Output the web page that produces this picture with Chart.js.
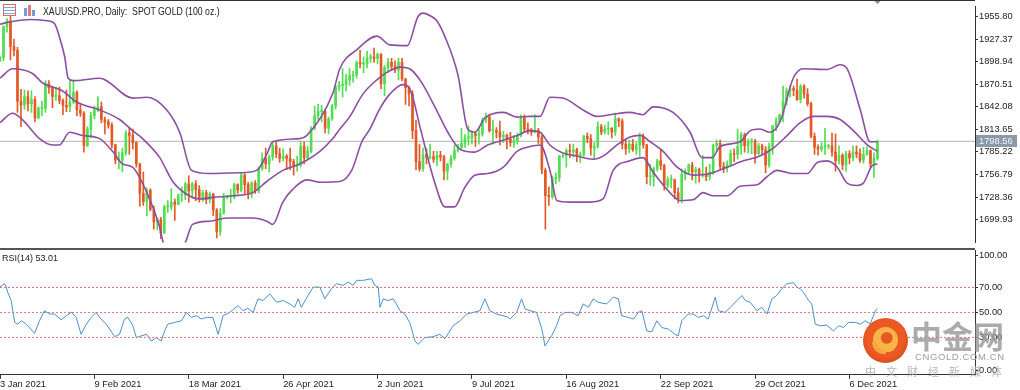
<!DOCTYPE html>
<html>
<head>
<meta charset="utf-8">
<script src="https://cdn.jsdelivr.net/npm/chart.js@4.4.1/dist/chart.umd.min.js"></script>
<style>
  html, body { margin: 0; padding: 0; background: #fff; }
  body { width: 1020px; height: 390px; position: relative; overflow: hidden; font-family: "Liberation Sans", Arial, sans-serif; }
  canvas { position: absolute; left: 0; }
  #price { top: 0; }
  #rsi { top: 249px; }
  .hline { position: absolute; left: 0; width: 975px; }
  #title { position: absolute; left: 43px; top: 6px; font-size: 10.5px; line-height: 10.5px; color: #222; white-space: nowrap; transform: scaleX(0.83); transform-origin: left top; }
  #rsiTitle { position: absolute; left: 2px; top: 254px; font-size: 9px; line-height: 9px; color: #222; white-space: nowrap; }
  #icon1 { position: absolute; left: 3px; top: 4px; width: 11px; height: 10px; border: 1px solid #d86b6b; background: repeating-linear-gradient(#fff 0 2px, #7ea8dc 2px 3px); }
  #icon2 { position: absolute; left: 24px; top: 4px; width: 13px; height: 12px; }
  #icon2 div { position: absolute; bottom: 0; width: 3px; }
  #logo { position: absolute; left: 863px; top: 318px; width: 45px; height: 45px; border-radius: 50%; background: radial-gradient(circle at 50% 45%, #ea5a22 0 55%, #cf3815 100%); }
  #logoIn { position: absolute; left: 10px; top: 9px; width: 25px; height: 26px; border-radius: 50%; background: radial-gradient(circle at 55% 42%, #e65a20 0 26%, #f8b448 31% 68%, transparent 71%); }
  #logoTail { position: absolute; left: 9px; top: 24px; width: 14px; height: 12px; border-radius: 0 0 0 12px; border-left: 4px solid #f6a83c; border-bottom: 4px solid #f6a83c; box-sizing: border-box; }
  .wm { position: absolute; white-space: nowrap; }
  #wmBig { left: 911px; top: 318px; font-family: "Noto Sans CJK SC", sans-serif; font-weight: 700; font-size: 31px; line-height: 34px; color: rgba(150,150,150,0.8); }
  #wmSite { left: 915px; top: 352px; font-size: 9.5px; line-height: 10px; letter-spacing: 0.6px; color: #9c9c9c; }
  #wmSub { left: 865px; top: 365px; font-family: "Noto Sans CJK SC", sans-serif; font-size: 11px; line-height: 13px; letter-spacing: 10px; color: rgba(170,170,170,0.85); }
</style>
</head>
<body>
<canvas id="price" width="1020" height="249"></canvas>
<canvas id="rsi" width="1020" height="141"></canvas>
<div class="hline" style="top:0;height:1px;background:#333"></div>
<div class="hline" style="top:248px;height:2px;background:#555"></div>
<div id="icon1"></div>
<div id="icon2">
  <div style="left:0;height:8px;background:#6f9fdc"></div>
  <div style="left:4px;height:11px;background:#e07a7a"></div>
  <div style="left:8px;height:6px;background:#6f9fdc"></div>
</div>
<div id="title">XAUUSD.PRO, Daily:&nbsp; SPOT GOLD (100 oz.)</div>
<div id="rsiTitle"></div>
<div id="logo"><div id="logoIn"></div><div id="logoTail"></div></div>
<div class="wm" id="wmBig">中金网</div>
<div class="wm" id="wmSite">CNGOLD.COM.CN</div>
<div class="wm" id="wmSub">中文财经新媒体</div>
<script>
// bar 0 = 3 Jan 2021, one bar per trading day, last bar = 16 Dec 2021
const dateLabels = ['3 Jan 2021', '9 Feb 2021', '18 Mar 2021', '26 Apr 2021', '2 Jun 2021', '9 Jul 2021', '16 Aug 2021', '22 Sep 2021', '29 Oct 2021', '6 Dec 2021'];
const tickBars = [0, 27, 54, 81, 108, 135, 162, 189, 216, 243];
const priceTicks = [1699.93, 1728.36, 1756.79, 1785.22, 1813.65, 1842.08, 1870.51, 1898.94, 1927.37, 1955.80];
const rsiLevels = [30, 50, 70];
const rsiAxis = [100, 70, 50, 30, 0];

const openPx = [
  1900,1904,1943,1950,1918,1913,1849,1844,1855,1846,
  1851,1828,1840,1840,1871,1866,1855,1856,1850,1844,
  1842,1848,1860,1838,1834,1793,1814,1831,1838,1842,
  1826,1823,1819,1794,1775,1775,1784,1809,1806,1797,
  1770,1733,1723,1737,1713,1697,1700,1683,1716,1716,
  1722,1719,1731,1731,1745,1736,1745,1738,1726,1734,
  1725,1732,1712,1685,1708,1728,1729,1729,1744,1737,
  1756,1744,1732,1746,1736,1764,1777,1770,1779,1793,
  1783,1777,1780,1777,1773,1768,1769,1792,1778,1786,
  1815,1831,1836,1836,1815,1827,1843,1867,1869,1870,
  1876,1881,1882,1898,1896,1896,1903,1905,1903,1908,
  1871,1891,1898,1893,1888,1898,1877,1866,1858,1812,
  1773,1764,1782,1778,1779,1776,1781,1779,1761,1770,
  1777,1787,1791,1796,1803,1803,1808,1806,1808,1825,
  1829,1812,1812,1810,1804,1806,1801,1797,1799,1806,
  1828,1814,1813,1810,1812,1804,1762,1730,1729,1752,
  1753,1780,1781,1787,1786,1788,1781,1781,1805,1802,
  1790,1792,1817,1810,1814,1815,1810,1827,1824,1795,
  1789,1795,1788,1794,1804,1794,1754,1754,1764,1774,
  1768,1743,1750,1750,1734,1726,1757,1761,1769,1760,
  1763,1756,1757,1754,1760,1793,1796,1767,1765,1769,
  1783,1782,1792,1807,1793,1798,1799,1783,1793,1788,
  1769,1792,1818,1824,1832,1849,1862,1865,1863,1851,
  1868,1858,1846,1805,1791,1789,1792,1792,1793,1785,
  1774,1781,1769,1783,1778,1785,1783,1775,1782,1787,
  1770,1777
];
const highPx = [
  1906,1944,1953,1959,1927,1917,1864,1863,1862,1862,
  1855,1842,1849,1875,1875,1868,1867,1867,1852,1863,
  1875,1875,1862,1845,1836,1817,1835,1843,1855,1848,
  1829,1826,1822,1795,1785,1790,1812,1816,1814,1798,
  1771,1760,1740,1739,1717,1702,1703,1718,1724,1739,
  1726,1732,1741,1747,1755,1747,1749,1743,1737,1737,
  1735,1733,1714,1714,1733,1731,1738,1746,1745,1759,
  1758,1747,1748,1749,1766,1784,1790,1781,1797,1798,
  1790,1789,1782,1790,1776,1780,1799,1798,1792,1817,
  1843,1845,1844,1838,1829,1845,1869,1874,1890,1883,
  1890,1887,1900,1913,1905,1912,1908,1916,1910,1909,
  1894,1903,1903,1900,1903,1903,1878,1868,1862,1825,
  1795,1790,1789,1795,1786,1786,1786,1781,1771,1781,
  1794,1795,1815,1807,1818,1812,1810,1816,1828,1834,
  1832,1825,1816,1824,1811,1808,1810,1806,1809,1832,
  1832,1822,1815,1832,1815,1806,1765,1741,1755,1759,
  1781,1782,1789,1795,1795,1790,1785,1806,1809,1807,
  1797,1823,1820,1819,1823,1816,1834,1828,1827,1800,
  1800,1801,1797,1809,1808,1795,1770,1766,1776,1788,
  1770,1754,1756,1751,1740,1764,1764,1770,1772,1766,
  1765,1781,1766,1770,1795,1800,1800,1772,1774,1788,
  1789,1814,1810,1809,1801,1802,1801,1796,1795,1792,
  1796,1818,1828,1833,1868,1866,1869,1868,1877,1870,
  1870,1865,1848,1809,1794,1797,1815,1795,1809,1808,
  1793,1783,1786,1787,1793,1793,1789,1791,1792,1788,
  1784,1800
];
const lowPx = [
  1899,1900,1936,1901,1906,1835,1817,1839,1837,1835,
  1823,1827,1831,1835,1859,1841,1850,1846,1832,1836,
  1836,1846,1831,1830,1785,1792,1803,1827,1836,1822,
  1808,1815,1790,1770,1764,1760,1781,1782,1789,1766,
  1717,1718,1705,1711,1688,1687,1676,1683,1709,1712,
  1699,1719,1723,1725,1722,1727,1724,1722,1723,1720,
  1721,1705,1677,1680,1707,1726,1721,1726,1733,1735,
  1732,1726,1728,1733,1734,1762,1764,1760,1775,1778,
  1772,1774,1763,1763,1756,1761,1766,1770,1776,1784,
  1813,1826,1823,1809,1808,1825,1839,1862,1854,1862,
  1869,1873,1878,1891,1885,1891,1898,1898,1896,1865,
  1856,1885,1888,1885,1876,1875,1845,1843,1802,1763,
  1761,1761,1770,1776,1772,1768,1774,1750,1750,1766,
  1775,1785,1789,1791,1794,1795,1792,1795,1805,1822,
  1810,1795,1803,1794,1797,1789,1792,1791,1795,1804,
  1810,1808,1806,1809,1796,1758,1688,1718,1726,1745,
  1748,1778,1766,1778,1779,1773,1772,1780,1797,1781,
  1776,1790,1807,1808,1807,1803,1806,1817,1789,1782,
  1784,1786,1782,1780,1790,1745,1743,1742,1761,1763,
  1737,1740,1740,1726,1721,1721,1750,1757,1750,1746,
  1747,1753,1749,1750,1757,1786,1763,1759,1760,1768,
  1773,1776,1782,1785,1784,1783,1771,1781,1781,1759,
  1766,1782,1812,1822,1823,1844,1854,1856,1850,1847,
  1853,1843,1803,1782,1781,1786,1782,1789,1780,1761,
  1770,1763,1761,1770,1774,1778,1772,1771,1781,1765,
  1753,1775
];
const closePx = [
  1904,1943,1950,1918,1913,1849,1844,1855,1846,1851,
  1828,1840,1840,1871,1866,1855,1856,1850,1844,1842,
  1848,1860,1838,1834,1793,1814,1831,1838,1842,1826,
  1823,1819,1794,1775,1775,1784,1809,1806,1797,1770,
  1733,1723,1737,1713,1697,1700,1683,1716,1716,1722,
  1719,1731,1731,1745,1736,1745,1738,1726,1734,1725,
  1732,1712,1685,1708,1728,1729,1729,1744,1737,1756,
  1744,1732,1746,1736,1764,1777,1770,1779,1793,1783,
  1777,1780,1777,1773,1768,1769,1792,1778,1786,1815,
  1831,1836,1836,1815,1827,1843,1867,1869,1870,1876,
  1881,1882,1898,1896,1896,1903,1905,1903,1908,1871,
  1891,1898,1893,1888,1898,1877,1866,1858,1812,1773,
  1764,1782,1778,1779,1776,1781,1779,1761,1770,1777,
  1787,1791,1796,1803,1803,1808,1806,1808,1825,1829,
  1812,1812,1810,1804,1806,1801,1797,1799,1806,1828,
  1814,1813,1810,1812,1804,1763,1730,1729,1752,1753,
  1780,1781,1787,1786,1788,1781,1781,1805,1802,1790,
  1792,1817,1810,1814,1815,1810,1827,1824,1795,1789,
  1795,1788,1794,1804,1794,1754,1754,1764,1774,1768,
  1743,1750,1750,1734,1726,1757,1761,1769,1760,1763,
  1756,1757,1754,1760,1793,1796,1767,1765,1769,1783,
  1782,1792,1807,1793,1798,1799,1783,1793,1788,1769,
  1792,1818,1824,1832,1849,1862,1865,1863,1851,1868,
  1858,1846,1805,1791,1789,1792,1792,1793,1785,1774,
  1781,1769,1783,1778,1785,1783,1775,1782,1787,1770,
  1777,1798.56
];

// Bollinger bands (20, 2): [bar, price]
const bbUpper = [
  [0,1946],[3,1949],[9,1952],[14,1950],[15.6,1947],[17,1930],[18.5,1905],[19.5,1878],[21,1875],[28.5,1878],
  [38,1853],[42,1854],[47.7,1838],[51.4,1810],[54.8,1762],[60,1758],[68.6,1759],[73.4,1762],[76.3,1782],[78,1798],
  [85.7,1802],[87.8,1806],[95.2,1859],[97.2,1890],[102.1,1914],[107.8,1931],[111.5,1920],[116.5,1919],[119.5,1955],[121,1960],
  [123.3,1956],[125,1950],[127.3,1930],[131,1882],[133.8,1814],[135.8,1810],[138.7,1828],[144,1835],[147.9,1829],[151.6,1830],
  [154.5,1830],[157.3,1854],[161,1853],[166.8,1838],[170.8,1830],[174.5,1832],[180.2,1835],[183.9,1832],[186.8,1842],[192.5,1835],
  [197.4,1810],[200.8,1778],[203.7,1778],[206,1792],[211.7,1798],[214.6,1812],[217.4,1814],[220.3,1810],[223.2,1824],[226.9,1878],
  [229.8,1890],[236.6,1889],[240.3,1895],[242.3,1890],[246.1,1838],[248.9,1798],[251,1798]
];
const bbMiddle = [
  [0,1878],[3.6,1890],[9.3,1884],[12.2,1872],[17.9,1862],[21.9,1848],[25.6,1842],[28.5,1838],[34.2,1826],[37.9,1812],
  [40.8,1802],[45.7,1778],[49.4,1748],[53.4,1732],[57.1,1726],[60.8,1728],[66.6,1730],[72.3,1734],[76.3,1748],[80.9,1762],
  [85.7,1770],[91.5,1786],[95.2,1802],[97.2,1814],[100.1,1830],[103.8,1858],[107.8,1876],[110.9,1886],[114.5,1892],[117.5,1889],
  [120.4,1874],[124.4,1842],[128.1,1810],[131.8,1788],[135.8,1785],[139.5,1794],[143.9,1800],[147.9,1806],[151.6,1812],[154.5,1810],
  [157.3,1794],[161,1784],[165,1780],[169.6,1776],[172.5,1780],[176.5,1794],[180.2,1804],[183.1,1806],[186,1798],[189.7,1786],
  [193.7,1766],[198.3,1756],[203.1,1758],[208,1766],[212.6,1774],[217.4,1780],[221.2,1790],[225.2,1806],[228.9,1822],[232.6,1830],
  [236.6,1830],[240.3,1826],[244.1,1812],[248.1,1794],[251,1786]
];
const bbLower = [
  [0,1822],[3.6,1834],[6.4,1826],[11.3,1802],[15,1794],[17,1794],[19.9,1810],[23.6,1806],[28.5,1802],[32.2,1786],
  [35.1,1770],[37.9,1766],[42,1734],[45.7,1690],[46.7,1671],[50,1650],[53,1671],[55.1,1694],[60,1698],[64.8,1702],
  [72.3,1702],[76.3,1698],[78,1694],[80.9,1722],[83.7,1738],[87.8,1750],[91.5,1747],[97.2,1748],[100.6,1762],[103.5,1798],
  [105.8,1814],[108.7,1840],[111.5,1858],[115.2,1870],[117.5,1862],[120.4,1812],[124.4,1746],[127.3,1716],[130,1716],[132.9,1740],
  [135.8,1756],[139.5,1758],[144,1766],[147.9,1786],[151.6,1792],[154.5,1794],[157.3,1762],[159.3,1724],[163,1722],[168.8,1722],
  [172.5,1726],[175.4,1762],[180.2,1774],[183.9,1778],[186.8,1760],[192.5,1730],[194.5,1724],[198.3,1725],[201.1,1734],[204,1730],
  [208,1730],[211.7,1742],[216.6,1744],[219.4,1754],[222.3,1762],[226.9,1758],[230.9,1758],[233.8,1772],[236.6,1774],[239.5,1766],
  [242.3,1746],[245.2,1743],[247,1746],[249.5,1768],[251,1770]
];

// RSI(14): [bar, value]
const rsiLine = [
  [0,70.3],[0.8,72.2],[1.3,73.0],[1.8,70.3],[2.2,66.2],[3.2,59.5],[4.2,42.0],[5.1,40.6],[6.1,43.3],[7.5,40.6],
  [9.9,33.3],[11.3,43.3],[12.7,51.4],[14.2,48.7],[15.6,48.7],[17.5,44.1],[19,47.4],[20.4,50.1],[21.8,46],[23.2,32.5],
  [24.7,40.6],[26.1,46],[27.5,50],[28.5,46],[30.4,40.6],[32.8,30.6],[34.2,32.5],[35.6,44.7],[36.6,46],[38,39.3],
  [39,29.8],[40.4,31.2],[41.9,32.5],[43.3,27.1],[44.7,29.8],[46.1,27.1],[47.1,35.2],[48,40.6],[50,42],[51.9,43.3],
  [53.3,50],[54.7,46],[56.2,47.4],[57.6,44.7],[59,46],[60.9,46],[62.4,32.5],[63.8,47.4],[65.7,50],[68.1,55.5],
  [69.5,51.4],[70.9,53.3],[72.4,50],[73.8,60.9],[75.2,59.5],[77.2,64.9],[79.1,58.1],[81,59.5],[82.9,56.8],[84.3,54.1],
  [85.3,60.9],[86.2,54.1],[88.1,63.6],[89.6,70.3],[91.5,70.3],[92.9,60.9],[94.8,69],[96.3,73],[98.1,71.7],[99.6,74.3],
  [101,71.7],[102,75.7],[103.9,75.7],[106.3,77],[107.2,71.7],[108.2,70.3],[108.7,54.1],[109.6,60.9],[111,59.5],[112.5,60.9],
  [113.4,56.8],[114.4,51.4],[115.8,48.7],[117.2,42],[118.7,27.1],[119.6,24.4],[121.5,29.8],[123.9,30.6],[125.8,32.5],[127.3,29],
  [129.6,39.3],[131.6,43.3],[133.5,48.7],[135.4,50],[137.3,51.4],[138.7,60.9],[140.1,51.4],[142,48.7],[143.9,47.4],[145.4,46],
  [145.9,44.7],[147.8,50],[149.2,60.9],[150.2,52.8],[151.6,51.4],[153.5,50],[155,36.6],[155.9,23.1],[156.8,27.1],[157.8,31.2],
  [159.2,39.3],[160.2,47.4],[161.6,50],[163.5,50],[165.4,47.4],[166.8,56.8],[168.3,54.1],[169.7,60.9],[171.1,58.1],[173.5,56.8],
  [175.4,62.2],[176.9,60.9],[177.8,47.4],[179.7,46],[181.2,44.7],[182.6,50],[183.6,51.4],[185,35.2],[186.4,34.4],[187.9,43.3],
  [189.3,37.9],[191.2,36.6],[193.1,32.5],[194,31.2],[195,43.3],[196.9,48.7],[198.3,48.7],[199.8,46],[201.2,47.4],[202.6,44.7],
  [204.6,62.2],[205.5,51.4],[207.4,50],[208.9,54.1],[210.8,59.5],[212.2,63.6],[213.2,59.5],[214.6,58.1],[216.5,51.4],[217.9,54.1],
  [219.4,48.7],[220.8,60.9],[222.2,63.6],[223.6,69],[225.1,73],[227,73.8],[227.9,70.3],[228.9,69],[229.8,66.2],[231.3,59.5],
  [232.2,56.8],[233.2,40.6],[234.6,39.3],[236.5,39.8],[238.4,35.2],[239.9,39.3],[241.3,37.9],[242.7,42],[244.6,42],[246.1,40.6],
  [247.5,43.3],[248.9,40.6],[250.4,51.4],[251,53.01]
];

const xMin = 0, xMax = 278.9;
const bull = '#52dd52', bear = '#e45a26', bandColor = '#8c4ea2';
const axisFont = { family: '"Liberation Sans", Arial, sans-serif', size: 9.3 };
const lastClose = closePx[closePx.length - 1];

const candleColor = c => (closePx[c.dataIndex] >= openPx[c.dataIndex] ? bull : bear);
const toXY = arr => arr.map(p => ({ x: p[0], y: p[1] }));

document.getElementById('rsiTitle').textContent = 'RSI(14) ' + rsiLine[rsiLine.length - 1][1].toFixed(2);

const priceTag = {
  id: 'priceTag',
  afterDraw(chart) {
    const ctx = chart.ctx;
    const py = Math.round(chart.scales.y.getPixelForValue(lastClose));
    ctx.save();
    ctx.fillStyle = '#8a9aab';
    ctx.fillRect(976, py - 6, 41, 12);
    ctx.fillStyle = '#f2f4f7';
    ctx.font = '9.3px "Liberation Sans", Arial';
    ctx.textBaseline = 'middle';
    ctx.fillText(lastClose.toFixed(2), 979, py + 0.5);
    // chart shift marker
    const sx = chart.scales.x.getPixelForValue(closePx.length - 1);
    ctx.fillStyle = '#8c8c8c';
    ctx.beginPath();
    ctx.moveTo(sx - 4, 0); ctx.lineTo(sx + 4, 0); ctx.lineTo(sx, 4);
    ctx.closePath();
    ctx.fill();
    ctx.restore();
  }
};

const rsiScaleText = {
  id: 'rsiScaleText',
  afterDraw(chart) {
    const ctx = chart.ctx, y = chart.scales.y, right = chart.chartArea.right;
    ctx.save();
    ctx.font = '9.3px "Liberation Sans", Arial';
    ctx.fillStyle = '#222';
    ctx.strokeStyle = '#333';
    ctx.lineWidth = 1;
    ctx.textBaseline = 'middle';
    rsiAxis.forEach(v => {
      let py = y.getPixelForValue(v);
      if (v === 100) py += 5;
      if (v === 0) py -= 5;
      py = Math.round(py) + 0.5;
      ctx.beginPath(); ctx.moveTo(right, py); ctx.lineTo(right + 3, py); ctx.stroke();
      ctx.fillText(v.toFixed(2), right + 4, py);
    });
    ctx.restore();
  }
};

new Chart(document.getElementById('price'), {
  type: 'bar',
  data: {
    datasets: [
      {
        type: 'line', order: 6,
        data: [{ x: xMin, y: lastClose }, { x: xMax, y: lastClose }],
        borderColor: '#b4b4b4', borderWidth: 1, pointRadius: 0
      },
      {
        order: 4, grouped: false, barThickness: 1,
        data: highPx.map((h, i) => ({ x: i, y: [lowPx[i], h] })),
        backgroundColor: candleColor, borderWidth: 0
      },
      {
        order: 3, grouped: false, barThickness: 2, minBarLength: 1,
        data: openPx.map((o, i) => ({ x: i, y: [o, closePx[i]] })),
        backgroundColor: candleColor, borderWidth: 0
      },
      { type: 'line', order: 1, data: toXY(bbUpper), borderColor: bandColor, borderWidth: 1.6, pointRadius: 0, cubicInterpolationMode: 'monotone' },
      { type: 'line', order: 1, data: toXY(bbMiddle), borderColor: bandColor, borderWidth: 1.6, pointRadius: 0, cubicInterpolationMode: 'monotone' },
      { type: 'line', order: 1, data: toXY(bbLower), borderColor: bandColor, borderWidth: 1.6, pointRadius: 0, cubicInterpolationMode: 'monotone' }
    ]
  },
  options: {
    responsive: false,
    animation: false,
    events: [],
    layout: { padding: { top: 2, bottom: 1, left: 0, right: 0 } },
    plugins: { legend: { display: false }, tooltip: { enabled: false } },
    scales: {
      x: { type: 'linear', min: xMin, max: xMax, offset: false, display: false },
      y: {
        type: 'linear', position: 'right', min: 1671.3, max: 1968.2,
        afterFit: s => { s.width = 45; },
        afterBuildTicks: s => { s.ticks = priceTicks.map(v => ({ value: v })); },
        ticks: { callback: v => Number(v).toFixed(2), font: axisFont, color: '#222', padding: 1, autoSkip: false },
        grid: { drawOnChartArea: false, tickLength: 3, color: '#333' },
        border: { display: true, color: '#333', width: 1 }
      }
    }
  },
  plugins: [priceTag]
});

new Chart(document.getElementById('rsi'), {
  type: 'line',
  data: {
    datasets: rsiLevels.map(v => ({
      data: [{ x: xMin, y: v }, { x: xMax, y: v }],
      borderColor: '#d9737f', borderWidth: 1, borderDash: [2, 2], pointRadius: 0
    })).concat([{
      data: toXY(rsiLine),
      borderColor: '#4a90d0', borderWidth: 1, pointRadius: 0
    }])
  },
  options: {
    responsive: false,
    animation: false,
    events: [],
    layout: { padding: { top: 1, bottom: 0, left: 0, right: 0 } },
    plugins: { legend: { display: false }, tooltip: { enabled: false } },
    scales: {
      x: {
        type: 'linear', min: xMin, max: xMax, offset: false,
        afterBuildTicks: s => { s.ticks = tickBars.map(v => ({ value: v })); },
        ticks: {
          callback: (v, i) => dateLabels[i],
          align: 'start', maxRotation: 0, autoSkip: false, padding: 0,
          font: axisFont, color: '#222'
        },
        grid: { drawOnChartArea: false, tickLength: 4, color: '#333' },
        border: { display: true, color: '#333', width: 1 }
      },
      y: {
        type: 'linear', position: 'right', min: 0, max: 100,
        afterFit: s => { s.width = 45; },
        ticks: { display: false },
        grid: { display: false },
        border: { display: true, color: '#333', width: 1 }
      }
    }
  },
  plugins: [rsiScaleText]
});
</script>
</body>
</html>
